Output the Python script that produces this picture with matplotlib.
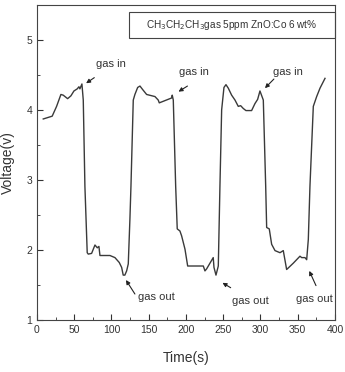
import matplotlib.pyplot as plt
from matplotlib.patches import Rectangle
from matplotlib.ticker import MultipleLocator

plt.rcParams['font.family'] = ['Liberation Sans Narrow', 'Liberation Sans', 'DejaVu Sans']

time_s = [8.5, 20.5, 26.4, 32.2, 35.3, 41.2, 45.6, 49.7, 54.1, 56.4, 57.7, 60.4, 62.2, 64.4, 67.5,
          68.9, 73.4, 77.9, 81.0, 83.2, 84.6, 98.0, 104.7, 110.5, 113.7, 115.8, 118.0, 120.4, 122.6,
          124.8, 126.2, 129.3, 131.5, 135.2, 138.3, 141.9, 147.2, 158.4, 162.8, 164.2, 180.8, 181.6,
          183.0, 186.2, 188.3, 191.9, 194.2, 198.7, 202.3, 223.3, 225.5, 227.8, 236.6, 237.6, 240.3,
          243.4, 245.6, 247.9, 251.0, 253.7, 256.8, 261.3, 265.8, 270.2, 273.4, 276.9, 280.5, 288.1,
          292.6, 296.2, 299.3, 303.8, 307.0, 308.3, 311.8, 315.0, 319.5, 326.2, 330.6, 335.1, 344.0,
          353.0, 355.3, 359.7, 362.0, 364.2, 366.4, 370.9, 375.4, 379.9, 386.6]
voltage = [3.87, 3.91, 4.05, 4.22, 4.21, 4.16, 4.20, 4.27, 4.30, 4.33, 4.30, 4.37, 4.14, 2.91, 1.96,
           1.94, 1.95, 2.07, 2.03, 2.05, 1.92, 1.92, 1.89, 1.82, 1.75, 1.64, 1.64, 1.70, 1.80,
           2.44, 2.91, 4.14, 4.22, 4.32, 4.34, 4.29, 4.22, 4.19, 4.14, 4.10, 4.17, 4.21,
           4.14, 2.91, 2.30, 2.27, 2.20, 2.01, 1.77, 1.77, 1.70, 1.73, 1.89, 1.75, 1.64,
           1.77, 2.91, 4.00, 4.32, 4.36, 4.31, 4.21, 4.14, 4.05, 4.06, 4.02, 3.99, 3.99,
           4.09, 4.15, 4.27, 4.14, 2.91, 2.32, 2.30, 2.08, 1.99, 1.96, 1.99, 1.72, 1.81,
           1.91, 1.89, 1.89, 1.86, 2.15, 2.91, 4.05, 4.19, 4.31, 4.45]

gas_in_text = [(99, 4.66), (211, 4.54), (337, 4.54)]
gas_in_arrow = [((77, 4.46), (66, 4.38)), ((202, 4.34), (190, 4.26)), ((318, 4.44), (306, 4.31))]
gas_out_text = [(160, 1.33), (287, 1.27), (373, 1.30)]
gas_out_arrow = [((131.5, 1.37), (119.5, 1.57)), ((260, 1.46), (249, 1.53)), ((374.5, 1.49), (365.5, 1.70))]

fig = plt.figure(figsize=(3.45, 3.72), dpi=100)
ax = fig.add_axes([0.107, 0.14, 0.864, 0.847])
ax.plot(time_s, voltage, color='#3a3a3a', lw=1.0)

ax.set_xlim(0, 400)
ax.set_ylim(1, 5.5)
ax.xaxis.set_major_locator(MultipleLocator(50))
ax.xaxis.set_minor_locator(MultipleLocator(25))
ax.yaxis.set_major_locator(MultipleLocator(1))
ax.yaxis.set_minor_locator(MultipleLocator(0.5))
ax.tick_params(which='both', direction='in', labelsize=7.5, colors='#333333')
ax.tick_params(which='major', length=4)
ax.tick_params(which='minor', length=2)
for s in ax.spines.values():
    s.set_color('#444444')
    s.set_linewidth(0.8)

for (tx, ty) in gas_in_text:
    ax.text(tx, ty, 'gas in', ha='center', va='center', fontsize=8, color='#333333')
for (tx, ty) in gas_out_text:
    ax.text(tx, ty, 'gas out', ha='center', va='center', fontsize=8, color='#333333')
for (p0, p1) in gas_in_arrow + gas_out_arrow:
    ax.annotate('', xy=p1, xytext=p0,
                arrowprops=dict(arrowstyle='-|>', color='#222222', lw=0.8, mutation_scale=6,
                                shrinkA=0, shrinkB=0))

ax.add_patch(Rectangle((0.309, 0.895), 0.691, 0.083, transform=ax.transAxes,
                       fill=False, ec='#444444', lw=0.8, clip_on=False))
ax.text(0.654, 0.937, 'CH$_3$CH$_2$CH$_3$gas 5ppm ZnO:Co 6 wt%', transform=ax.transAxes,
        ha='center', va='center', fontsize=7.2, color='#333333')

ax.set_xlabel('Time(s)', fontsize=10, color='#333333', labelpad=12)
ax.set_ylabel('Voltage(v)', fontsize=10, color='#333333', labelpad=8)

fig.savefig('out.png', dpi=100)
